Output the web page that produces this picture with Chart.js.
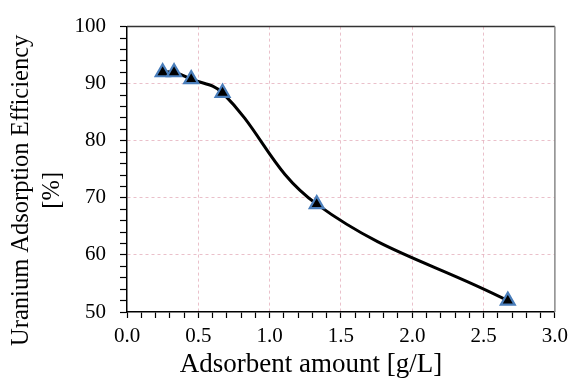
<!DOCTYPE html>
<html>
<head>
<meta charset="utf-8">
<script src="https://cdn.jsdelivr.net/npm/chart.js@4/dist/chart.umd.min.js"></script>
<style>
  body { margin: 0; background: #fff; }
  #wrap { width: 574px; height: 385px; }
</style>
</head>
<body>
<div id="wrap"><canvas id="chart" width="574" height="385"></canvas></div>
<script>
const dosage = [0.25, 0.33, 0.45, 0.67, 1.33, 2.67];
const efficiency = [92, 92, 90.8, 88.4, 68.9, 52];
const yTicks = [50, 60, 70, 80, 90, 100];
const xTitle = 'Adsorbent amount [g/L]';
const yTitle = ['Uranium Adsorption Efficiency', '[%]'];

const serif = 'Liberation Serif, Times New Roman, serif';
const gridPink = 'rgba(225, 165, 180, 0.7)';

function isMajor(v, step) {
    return Math.abs(v / step - Math.round(v / step)) < 1e-6;
}

// frame on top/right + axis titles placed like the excel original
const extras = {
    id: 'extras',
    afterDraw(chart) {
        const a = chart.chartArea;
        const ctx = chart.ctx;
        ctx.save();
        ctx.lineWidth = 1.5;
        ctx.strokeStyle = '#333';
        ctx.beginPath();
        ctx.moveTo(a.left, a.top);
        ctx.lineTo(a.right, a.top);
        ctx.stroke();
        ctx.strokeStyle = '#888';
        ctx.beginPath();
        ctx.moveTo(a.right, a.top);
        ctx.lineTo(a.right, a.bottom);
        ctx.stroke();

        ctx.fillStyle = '#000';
        ctx.textAlign = 'center';
        ctx.textBaseline = 'alphabetic';
        ctx.font = '27px ' + serif;
        ctx.fillText(xTitle, (a.left + a.right) / 2 - 30, chart.height - 13);

        ctx.font = '24.5px ' + serif;
        ctx.textBaseline = 'middle';
        ctx.translate(0, (a.top + a.bottom) / 2 + 21);
        ctx.rotate(-Math.PI / 2);
        yTitle.forEach((line, i) => ctx.fillText(line, 0, 21.5 + i * 31.5));
        ctx.restore();
    }
};

new Chart(document.getElementById('chart'), {
    type: 'scatter',
    plugins: [extras],
    data: {
        datasets: [{
            data: dosage.map((x, i) => ({x: x, y: efficiency[i]})),
            showLine: true,
            tension: 0.4,
            borderColor: '#000',
            borderWidth: 3,
            pointStyle: 'triangle',
            pointRadius: 8,
            pointBackgroundColor: '#000',
            pointBorderColor: '#4a7ebb',
            pointBorderWidth: 2.2
        }]
    },
    options: {
        responsive: false,
        animation: false,
        layout: { padding: { top: 24, right: 18 } },
        plugins: {
            legend: { display: false },
            tooltip: { enabled: false }
        },
        scales: {
            x: {
                type: 'linear',
                min: 0,
                max: 3,
                afterFit: s => { s.height = 73; },
                afterBuildTicks: s => {
                    s.ticks = [];
                    for (let i = 0; i <= 30; i++) s.ticks.push({value: i / 10});
                },
                border: { color: '#000', width: 1.5, dash: [3, 3] },
                grid: {
                    color: c => (c.tick && isMajor(c.tick.value, 0.5) && c.tick.value > 0 && c.tick.value < 3) ? gridPink : 'transparent',
                    tickColor: '#000',
                    tickLength: 6,
                    tickWidth: 1.2,
                    tickBorderDash: []
                },
                ticks: {
                    autoSkip: false,
                    maxRotation: 0,
                    padding: 6,
                    color: '#000',
                    font: { family: serif, size: 21 },
                    callback: v => isMajor(v, 0.5) ? v.toFixed(1) : ''
                }
            },
            y: {
                min: 50,
                max: 100,
                afterFit: s => { s.width = 127; },
                afterBuildTicks: s => {
                    s.ticks = [];
                    for (let v = 50; v <= 100; v += 2) s.ticks.push({value: v});
                },
                border: { color: '#000', width: 1.5, dash: [3, 3] },
                grid: {
                    color: c => (c.tick && isMajor(c.tick.value, 10) && c.tick.value > 50 && c.tick.value < 100) ? gridPink : 'transparent',
                    tickColor: '#000',
                    tickLength: 7,
                    tickWidth: 1.2,
                    tickBorderDash: []
                },
                ticks: {
                    autoSkip: false,
                    padding: 14,
                    color: '#000',
                    font: { family: serif, size: 21 },
                    callback: v => yTicks.includes(v) ? String(v) : ''
                }
            }
        }
    }
});
</script>
</body>
</html>
